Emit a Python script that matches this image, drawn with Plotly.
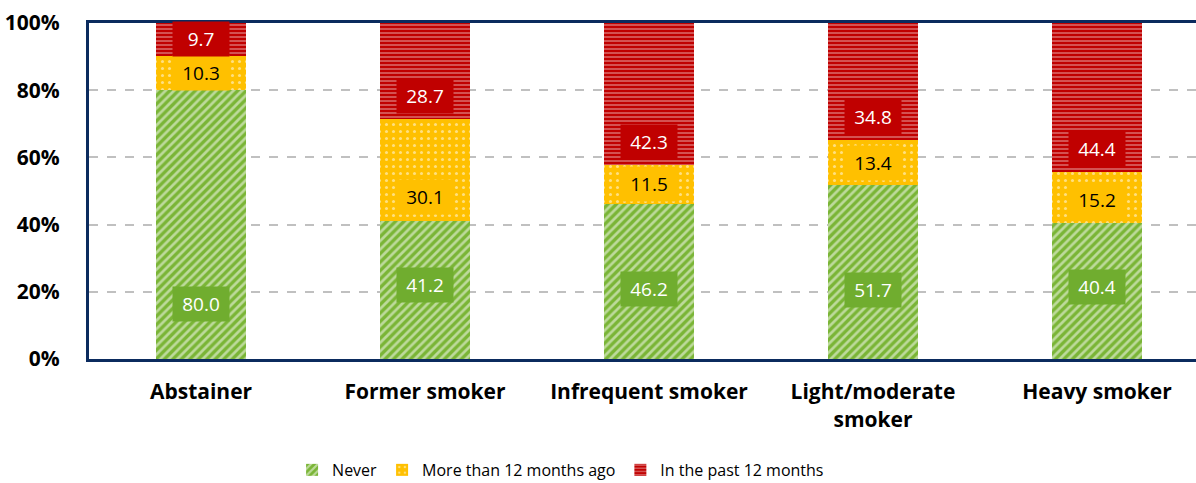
import plotly.graph_objects as go

categories = ["Abstainer", "Former smoker", "Infrequent smoker", "Light/moderate<br>smoker", "Heavy smoker"]
never = [80.0, 41.2, 46.2, 51.7, 40.4]
more_than_12 = [10.3, 30.1, 11.5, 13.4, 15.2]
past_12 = [9.7, 28.7, 42.3, 34.8, 44.4]
y_ticks = [0, 20, 40, 60, 80, 100]
y_tick_labels = ["0%", "20%", "40%", "60%", "80%", "100%"]

# label placement (value-axis units) for the "Never" labels
never_label_y = [16.4, 22.0, 20.8, 20.5, 21.4]

GREEN = "#7AB536"
GREEN_BOX = "#70AD2F"
YELLOW = "#FFC000"
RED = "#C00000"
NAVY = "#0B2B5E"
FONT = "Open Sans"

fig = go.Figure()
fig.add_trace(go.Bar(
    x=categories, y=never, name="Never", width=0.4,
    marker=dict(color=GREEN, line=dict(width=0),
                pattern=dict(shape="/", fgcolor="white", fillmode="overlay", size=6, solidity=0.45)),
))
fig.add_trace(go.Bar(
    x=categories, y=more_than_12, name="More than 12 months ago", width=0.4,
    marker=dict(color=YELLOW, line=dict(width=0),
                pattern=dict(shape=".", fgcolor="white", fillmode="overlay", size=7, solidity=0.15)),
))
fig.add_trace(go.Bar(
    x=categories, y=past_12, name="In the past 12 months", width=0.4,
    marker=dict(color=RED, line=dict(width=0),
                pattern=dict(shape="-", fgcolor="white", fillmode="overlay", size=4, solidity=0.32)),
))

annotations = []
for i, c in enumerate(categories):
    annotations.append(dict(x=c, y=never_label_y[i], text=f"{never[i]:.1f}", showarrow=False,
                            bgcolor=GREEN_BOX, width=54, height=32,
                            font=dict(family=FONT, size=19, color="white")))
    base = never[i]
    annotations.append(dict(x=c, y=base + min(6.9, more_than_12[i] / 2), text=f"{more_than_12[i]:.1f}",
                            showarrow=False, bgcolor=YELLOW, width=54, height=32,
                            font=dict(family=FONT, size=19, color="black")))
    base = never[i] + more_than_12[i]
    annotations.append(dict(x=c, y=base + min(6.9, past_12[i] / 2), text=f"{past_12[i]:.1f}",
                            showarrow=False, bgcolor=RED, width=54, height=32,
                            font=dict(family=FONT, size=19, color="white")))

fig.update_layout(
    barmode="stack",
    width=1196, height=483,
    margin=dict(l=89, r=0, t=23, b=124),
    plot_bgcolor="white", paper_bgcolor="white",
    font=dict(family=FONT, color="black"),
    annotations=annotations,
    legend=dict(orientation="h", x=0.426, xanchor="center",
                yref="container", y=0.027, yanchor="middle",
                font=dict(family=FONT, size=16), traceorder="normal", itemwidth=30),
    xaxis=dict(range=[-0.5, 4.442], showline=True, mirror=True, linecolor=NAVY, linewidth=3,
               showgrid=False, ticks="", ticklabelstandoff=12, automargin=False,
               tickfont=dict(family=FONT, size=21, color="black", weight="bold")),
    yaxis=dict(range=[0, 100], tickvals=y_ticks, ticktext=y_tick_labels,
               showline=True, linecolor=NAVY, linewidth=3,
               showgrid=True, gridcolor="#C0C0C0", griddash="dash", gridwidth=1.5,
               zeroline=False, ticks="", ticklabelstandoff=22, automargin=False,
               tickfont=dict(family=FONT, size=21, color="black", weight="bold")),
    bargap=0.6,
)

fig.write_html("out.html", config={"displayModeBar": False},
               post_script="document.body.style.margin='0';document.body.style.overflow='hidden';")
